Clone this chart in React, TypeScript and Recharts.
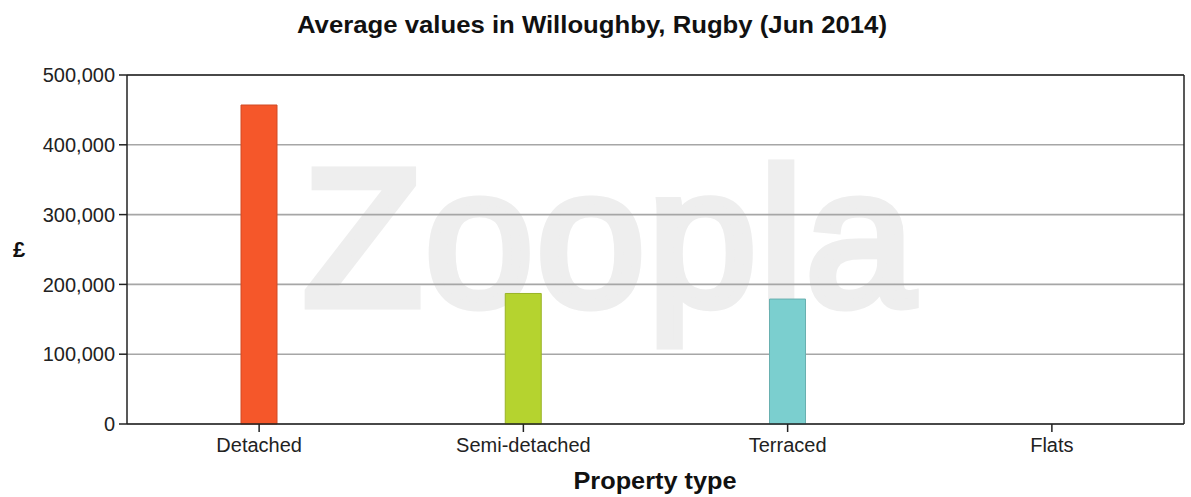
import React from "react";
import { BarChart, Bar, XAxis, YAxis, CartesianGrid, Cell } from "recharts";

const propertyTypes = ["Detached", "Semi-detached", "Terraced", "Flats"];
const averageValues = [457000, 187000, 179000, 0];
const barColors = ["#f5572a", "#b5d32f", "#7bcfcf", "#999999"];
const yTicks = [0, 100000, 200000, 300000, 400000, 500000];

const data = propertyTypes.map((type, i) => ({ type, value: averageValues[i] }));

const FONT = "'Liberation Sans', Arial, sans-serif";

const darker = (hex: string) => {
  const n = parseInt(hex.slice(1), 16);
  const r = Math.round(((n >> 16) & 255) * 0.85);
  const g = Math.round(((n >> 8) & 255) * 0.85);
  const b = Math.round((n & 255) * 0.85);
  return `rgb(${r},${g},${b})`;
};

const App: React.FC = () => {
  return (
    <div style={{ position: "absolute", left: 0, top: 0, width: 1191, height: 497, background: "#fff" }}>
      {/* zoopla watermark sits behind the chart */}
      <div
        style={{
          position: "absolute",
          left: 303,
          top: 140,
          fontFamily: FONT,
          fontWeight: 400,
          fontSize: 195,
          color: "#eeeeee",
          WebkitTextStroke: "9px #eeeeee",
          letterSpacing: 3,
          lineHeight: 1,
          whiteSpace: "nowrap",
          userSelect: "none",
        }}
      >
        Zoopla
      </div>
      <div style={{ position: "absolute", left: 0, top: 0 }}>
        <BarChart
          width={1191}
          height={497}
          data={data}
          margin={{ top: 75, right: 7, left: 17, bottom: 43 }}
          barSize={36}
        >
          <text
            x={592}
            y={33}
            textAnchor="middle"
            fontFamily={FONT}
            fontWeight={700}
            fontSize={24}
            fill="#111"
            textLength={590}
            lengthAdjust="spacingAndGlyphs"
          >
            Average values in Willoughby, Rugby (Jun 2014)
          </text>
          <text
            x={655}
            y={489}
            textAnchor="middle"
            fontFamily={FONT}
            fontWeight={700}
            fontSize={23}
            fill="#111"
            textLength={163}
            lengthAdjust="spacingAndGlyphs"
          >
            Property type
          </text>
          <text x={19} y={257} textAnchor="middle" fontFamily={FONT} fontWeight={700} fontSize={22} fill="#111">
            £
          </text>
          <CartesianGrid horizontal vertical={false} stroke="#a6a6a6" strokeWidth={1.6} />
          {/* black frame on top and right of the plot */}
          <CartesianGrid
            stroke="#222"
            strokeWidth={1.5}
            horizontalCoordinatesGenerator={({ offset }: any) => [offset.top]}
            verticalCoordinatesGenerator={({ offset }: any) => [offset.left + offset.width]}
          />
          <XAxis
            dataKey="type"
            height={30}
            tickSize={8}
            tickMargin={6}
            axisLine={{ stroke: "#222", strokeWidth: 1.5 }}
            tickLine={{ stroke: "#222", strokeWidth: 1.5 }}
            tick={{ fontFamily: FONT, fontSize: 20, fill: "#222" }}
          />
          <YAxis
            width={110}
            domain={[0, 500000]}
            ticks={yTicks}
            tickSize={8}
            tickMargin={4}
            interval={0}
            tickFormatter={(v: number) => v.toLocaleString("en-GB")}
            axisLine={{ stroke: "#222", strokeWidth: 1.5 }}
            tickLine={{ stroke: "#222", strokeWidth: 1.5 }}
            tick={{ fontFamily: FONT, fontSize: 20, fill: "#222" }}
          />
          <Bar dataKey="value" isAnimationActive={false}>
            {data.map((d, i) => (
              <Cell key={d.type} fill={barColors[i]} stroke={darker(barColors[i])} strokeWidth={1} />
            ))}
          </Bar>
        </BarChart>
      </div>
    </div>
  );
};

export default App;
